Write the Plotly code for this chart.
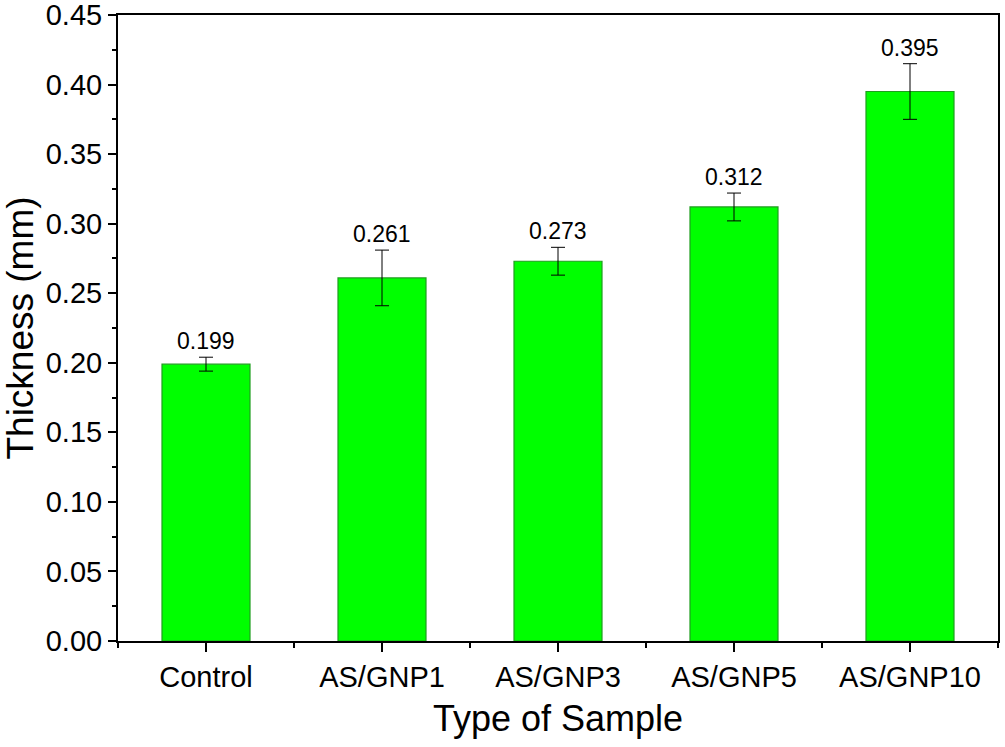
import plotly.graph_objects as go

categories = ["Control", "AS/GNP1", "AS/GNP3", "AS/GNP5", "AS/GNP10"]
thickness = [0.199, 0.261, 0.273, 0.312, 0.395]
errors = [0.005, 0.020, 0.010, 0.010, 0.020]
labels = ["0.199", "0.261", "0.273", "0.312", "0.395"]

xpos = list(range(len(categories)))

FONT = "Liberation Sans, Arial, sans-serif"

fig = go.Figure()
fig.add_trace(go.Bar(
    x=xpos,
    y=thickness,
    width=0.5,
    marker=dict(color="#00FF00", line=dict(color="#1E9E1E", width=1.2)),
    error_y=dict(type="data", array=errors, visible=True, color="black",
                 thickness=1, width=7),
    showlegend=False,
))

for xi, v, e, t in zip(xpos, thickness, errors, labels):
    fig.add_annotation(x=xi, y=v + e, text=t, showarrow=False,
                       yanchor="bottom", yshift=1,
                       font=dict(family=FONT, size=23, color="black"))

fig.update_layout(
    width=1005, height=747,
    margin=dict(l=118, r=7, t=15, b=106),
    paper_bgcolor="white", plot_bgcolor="white",
    font=dict(family=FONT, color="black"),
)

fig.update_xaxes(
    range=[-0.5, 4.5],
    tickmode="array", tickvals=xpos, ticktext=categories,
    ticks="outside", ticklen=9, tickwidth=2, tickcolor="black",
    tickfont=dict(family=FONT, size=29, color="black"),
    showline=True, linecolor="black", linewidth=2, mirror=True,
    showgrid=False, zeroline=False,
    automargin="bottom",
    minor=dict(tickmode="linear", tick0=0.5, dtick=1, ticks="outside",
               ticklen=5, tickwidth=2, tickcolor="black", showgrid=False),
    title=dict(text="Type of Sample", font=dict(family=FONT, size=36, color="black"),
               standoff=14),
)

fig.update_yaxes(
    range=[0, 0.45],
    tickmode="linear", tick0=0, dtick=0.05, tickformat=".2f",
    ticks="outside", ticklen=8, tickwidth=2, tickcolor="black",
    tickfont=dict(family=FONT, size=29, color="black"),
    ticklabeloverflow="allow",
    automargin="left",
    showline=True, linecolor="black", linewidth=2, mirror=True,
    showgrid=False, zeroline=False,
    minor=dict(tickmode="linear", tick0=0, dtick=0.025, ticks="outside",
               ticklen=4, tickwidth=2, tickcolor="black", showgrid=False),
    title=dict(text="Thickness (mm)", font=dict(family=FONT, size=37, color="black"),
               standoff=6),
)

fig.write_html("out.html")
